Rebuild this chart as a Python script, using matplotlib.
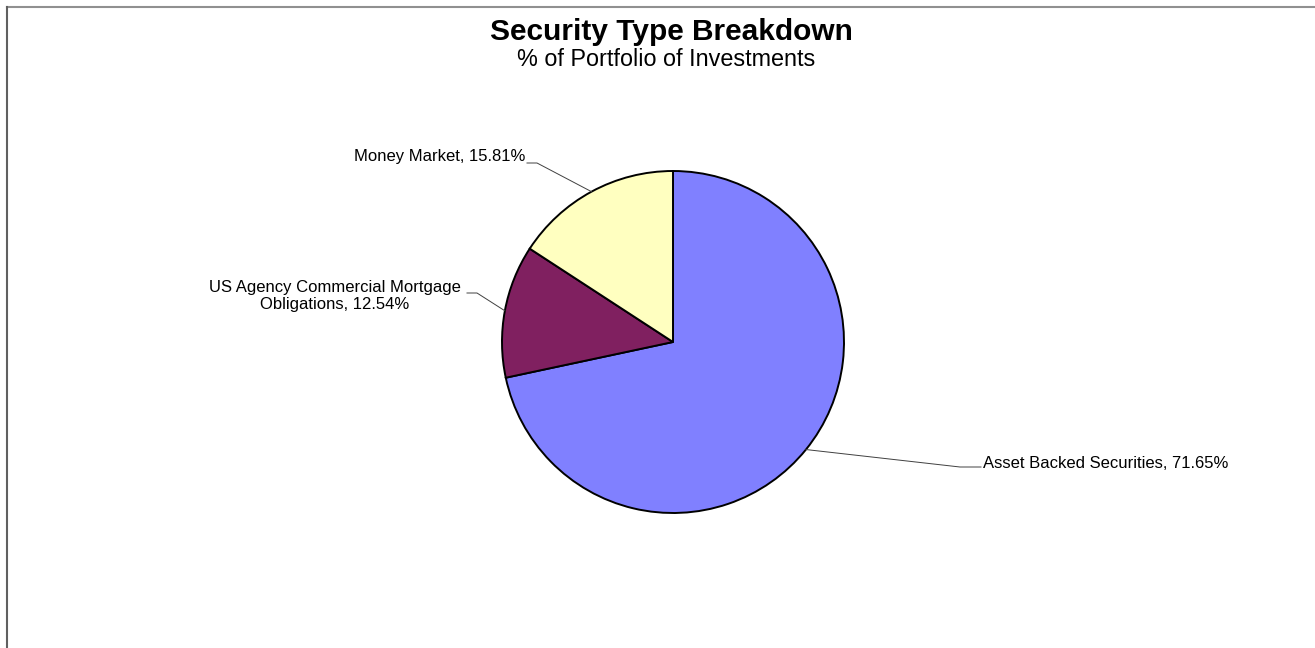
import numpy as np
import matplotlib.pyplot as plt
from matplotlib.lines import Line2D

plt.rcParams['font.family'] = ['Liberation Sans', 'DejaVu Sans']

# data
labels = ['Asset Backed Securities', 'US Agency Commercial Mortgage\nObligations', 'Money Market']
values = [71.65, 12.54, 15.81]
colors = ['#8080FF', '#802060', '#FFFFC0']

W, H = 1315, 648
fig = plt.figure(figsize=(W / 100, H / 100), dpi=100)
ax = fig.add_axes([0, 0, 1, 1])

cx, cy, r = 673, H - 342, 171
wedges, _ = ax.pie(values, colors=colors, startangle=90, counterclock=False,
                   center=(cx, cy), radius=r, frame=True,
                   wedgeprops=dict(edgecolor='black', linewidth=1.4))
ax.set_xlim(0, W)
ax.set_ylim(0, H)
ax.set_aspect('equal')
ax.axis('off')

# label layout: elbow start, elbow end (horizontal), text point, alignment
layout = [
    ((960, H - 467), (981, H - 467), (983, H - 463), 'left', 'center'),
    ((477, H - 293), (467, H - 293), (461, H - 296), 'right', 'center'),
    ((537, H - 163), (527, H - 163), (525, H - 157), 'right', 'center'),
]
for w, lab, v, (e1, e2, tpos, ha, va) in zip(wedges, labels, values, layout):
    mid = np.deg2rad((w.theta1 + w.theta2) / 2)
    ex, ey = cx + r * np.cos(mid), cy + r * np.sin(mid)
    ax.plot([ex, e1[0], e2[0]], [ey, e1[1], e2[1]], color='#404040', lw=0.7)
    ax.text(tpos[0], tpos[1], f'{lab}, {v:.2f}%', ha=ha, va=va,
            multialignment='center', fontsize=12, linespacing=1.2)

fig.text(671 / W, 1 - 32 / H, 'Security Type Breakdown', ha='center', va='center',
         fontsize=21.5, fontweight='bold')
fig.text(666 / W, 1 - 59 / H, '% of Portfolio of Investments', ha='center', va='center',
         fontsize=16.8)

# frame (top and left edges)
fig.add_artist(Line2D([7 / W, 1], [1 - 7 / H, 1 - 7 / H], transform=fig.transFigure,
                      color='#909090', lw=1.5))
fig.add_artist(Line2D([7 / W, 7 / W], [0, 1 - 7 / H], transform=fig.transFigure,
                      color='#606060', lw=1.5))

fig.savefig('out.png', dpi=100)
